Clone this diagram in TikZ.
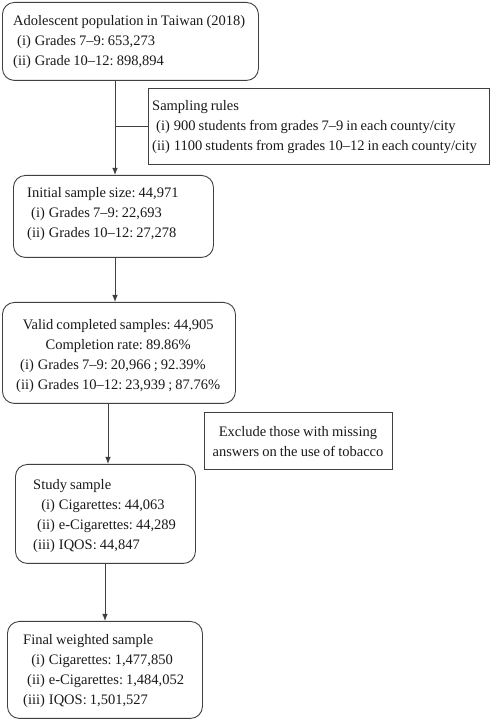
\documentclass[tikz,border=0pt]{standalone}
\usepackage{fontspec}
\setmainfont{Liberation Serif}[WordSpace=0.85]
\usetikzlibrary{arrows.meta}
\frenchspacing
\begin{document}
\begin{tikzpicture}[x=1pt,y=1pt,
  boxbase/.style={draw=black!75, line width=0.9pt, inner sep=0pt, anchor=north west},
  rbox/.style={boxbase, rounded corners=12pt},
  sbox/.style={boxbase},
  txt/.style={inner sep=0pt, font=\fontsize{14.5}{20}\selectfont\frenchspacing, text=black!90},
  conn/.style={draw=black!75, line width=0.9pt},
  arr/.style={conn, -{Latex[length=7pt,width=5.5pt]}}]
\useasboundingbox (0,0) rectangle (492,720);

% boxes
\node[rbox, minimum width=256, minimum height=78] (b1) at (2,718) {};
\node[sbox, minimum width=341, minimum height=76] (samp) at (148,632) {};
\node[rbox, minimum width=200, minimum height=82] (b2) at (13,545) {};
\node[rbox, minimum width=233, minimum height=101] (b3) at (2,418) {};
\node[sbox, minimum width=188, minimum height=57] (excl) at (204,308) {};
\node[rbox, minimum width=180, minimum height=99] (b4) at (15,256) {};
\node[rbox, minimum width=195, minimum height=97] (b5) at (7,99) {};

% texts
\node[txt, anchor=base west] (t1) at (13,694) {\begin{tabular}[t]{@{}r@{\hspace{4pt}}l@{}}
\multicolumn{2}{@{}l@{}}{Adolescent population in Taiwan (2018)}\\
(i) & Grades 7--9: 653,273\\
(ii) & Grade 10--12: 898,894\end{tabular}};

\node[txt, anchor=base west] (ts) at (152,609) {\begin{tabular}[t]{@{}r@{\hspace{4pt}}l@{}}
\multicolumn{2}{@{}l@{}}{Sampling rules}\\
(i) & 900 students from grades 7--9 in each county/city\\
(ii) & 1100 students from grades 10--12 in each county/city\end{tabular}};

\node[txt, anchor=base west] (t2) at (27,522) {\begin{tabular}[t]{@{}r@{\hspace{4pt}}l@{}}
\multicolumn{2}{@{}l@{}}{Initial sample size: 44,971}\\
(i) & Grades 7--9: 22,693\\
(ii) & Grades 10--12: 27,278\end{tabular}};

\node[txt, anchor=base west] (t3) at (16,390) {\begin{tabular}[t]{@{}r@{\hspace{4pt}}l@{}}
\multicolumn{2}{@{}c@{}}{Valid completed samples: 44,905}\\
\multicolumn{2}{@{}c@{}}{Completion rate: 89.86\%}\\
(i) & Grades 7--9: 20,966 ; 92.39\%\\
(ii) & Grades 10--12: 23,939 ; 87.76\%\end{tabular}};

\node[txt, anchor=base] (te) at (298,283) {\begin{tabular}[t]{@{}c@{}}
Exclude those with missing\\
answers on the use of tobacco\end{tabular}};

\node[txt, anchor=base west] (t4) at (33,230) {\begin{tabular}[t]{@{}r@{\hspace{4pt}}l@{}}
\multicolumn{2}{@{}l@{}}{Study sample}\\
(i) & Cigarettes: 44,063\\
(ii) & e-Cigarettes: 44,289\\
(iii) & IQOS: 44,847\end{tabular}};

\node[txt, anchor=base west] (t5) at (23,75) {\begin{tabular}[t]{@{}r@{\hspace{4pt}}l@{}}
\multicolumn{2}{@{}l@{}}{Final weighted sample}\\
(i) & Cigarettes: 1,477,850\\
(ii) & e-Cigarettes: 1,484,052\\
(iii) & IQOS: 1,501,527\end{tabular}};

% connectors
\coordinate (c1) at (115,0);
\coordinate (c3) at (108,0);
\coordinate (c4) at (105,0);
\draw[arr] (b1.south -| c1) -- (b2.north -| c1);
\draw[conn] (samp.west) -- (samp.west -| c1);
\draw[arr] (b2.south -| c1) -- (b3.north -| c1);
\draw[arr] (b3.south -| c3) -- (b4.north -| c3);
\draw[arr] (b4.south -| c4) -- (b5.north -| c4);
\end{tikzpicture}
\end{document}
